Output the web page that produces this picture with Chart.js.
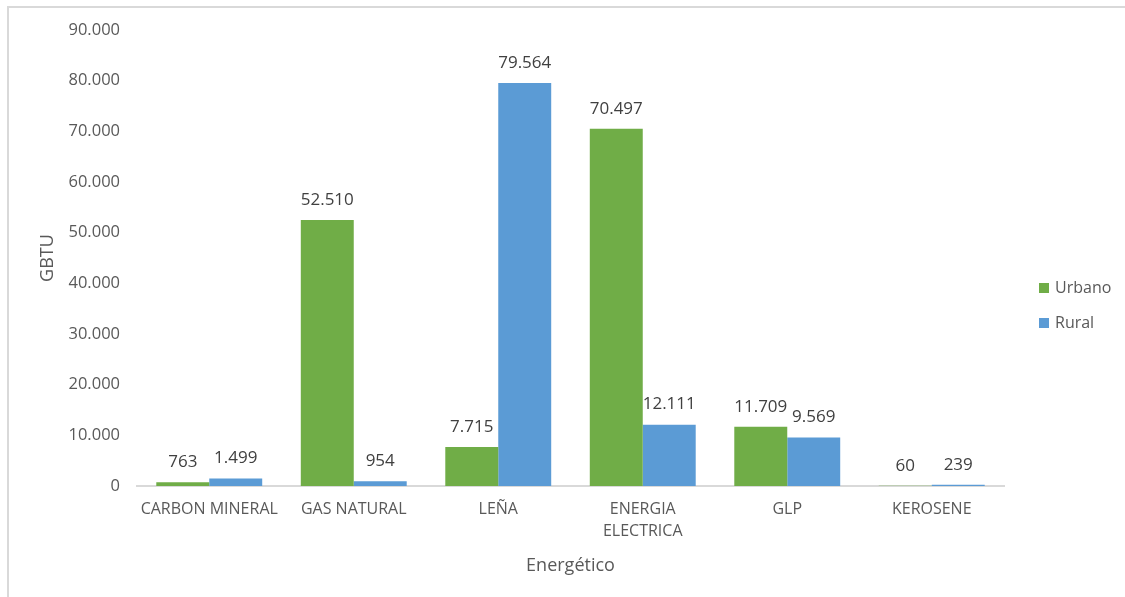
<!DOCTYPE html>
<html>
<head>
<meta charset="utf-8">
<script src="https://cdn.jsdelivr.net/npm/chart.js@4.4.1/dist/chart.umd.min.js"></script>
<style>
  html, body { margin: 0; padding: 0; background: #fff; }
  #wrap { width: 1125px; height: 597px; }
</style>
</head>
<body>
<div id="wrap"><canvas id="energia"></canvas></div>
<script>
// Consumo por energético, urbano vs rural (GBTU)
const categorias = ["CARBON MINERAL", "GAS NATURAL", "LEÑA", ["ENERGIA", "ELECTRICA"], "GLP", "KEROSENE"];
const urbano = [763, 52510, 7715, 70497, 11709, 60];
const rural = [1499, 954, 79564, 12111, 9569, 239];
const yTicks = [0, 10000, 20000, 30000, 40000, 50000, 60000, 70000, 80000, 90000];

const VERDE = "#70AD47";
const AZUL = "#5B9BD5";
const FUENTE = "'Open Sans', sans-serif";

// formato con punto de miles: 52510 -> 52.510
function miles(v) {
  return String(Math.round(v)).replace(/\B(?=(\d{3})+(?!\d))/g, ".");
}

// fondo y marco gris
const marco = {
  id: "marco",
  beforeDraw(chart) {
    const ctx = chart.ctx;
    ctx.save();
    ctx.fillStyle = "#fff";
    ctx.fillRect(0, 0, chart.width, chart.height);
    ctx.strokeStyle = "#d9d9d9";
    ctx.lineWidth = 2;
    ctx.beginPath();
    ctx.moveTo(8, chart.height);
    ctx.lineTo(8, 7);
    ctx.lineTo(chart.width, 7);
    ctx.stroke();
    ctx.restore();
  }
};

// etiquetas de valor sobre cada barra
const etiquetas = {
  id: "etiquetas",
  afterDatasetsDraw(chart) {
    const ctx = chart.ctx;
    ctx.save();
    ctx.font = "17px " + FUENTE;
    ctx.fillStyle = "#404040";
    ctx.textAlign = "center";
    ctx.textBaseline = "middle";
    chart.data.datasets.forEach((ds, i) => {
      chart.getDatasetMeta(i).data.forEach((bar, j) => {
        ctx.fillText(miles(ds.data[j]), bar.x, bar.y - 20);
      });
    });
    ctx.restore();
  }
};

// leyenda a la derecha
const leyenda = {
  id: "leyenda",
  afterDraw(chart) {
    const ctx = chart.ctx;
    ctx.save();
    ctx.font = "16px " + FUENTE;
    ctx.textBaseline = "middle";
    chart.data.datasets.forEach((ds, i) => {
      const y = 288 + i * 35;
      ctx.fillStyle = ds.backgroundColor;
      ctx.fillRect(1039, y - 5, 10, 10);
      ctx.fillStyle = "#595959";
      ctx.fillText(ds.label, 1055, y);
    });
    ctx.restore();
  }
};

new Chart(document.getElementById("energia"), {
  type: "bar",
  data: {
    labels: categorias,
    datasets: [
      { label: "Urbano", backgroundColor: VERDE, data: urbano },
      { label: "Rural", backgroundColor: AZUL, data: rural }
    ]
  },
  options: {
    responsive: true,
    maintainAspectRatio: false,
    animation: false,
    devicePixelRatio: 1,
    layout: { padding: { top: 30, right: 121, bottom: 0, left: 0 } },
    datasets: {
      bar: { categoryPercentage: 0.733, barPercentage: 1.0 }
    },
    plugins: {
      legend: { display: false },
      tooltip: { enabled: false }
    },
    scales: {
      x: {
        grid: { display: false, drawTicks: false },
        border: { display: true, color: "#d9d9d9", width: 2 },
        ticks: { color: "#595959", font: { family: FUENTE, size: 16, lineHeight: 1.35 }, padding: 13, maxRotation: 0, autoSkip: false },
        title: { display: true, text: "Energético", color: "#595959", font: { family: FUENTE, size: 18 }, padding: { top: 0, bottom: 20 } },
        afterFit(scale) { scale.height = 111; }
      },
      y: {
        min: 0,
        max: 90000,
        afterBuildTicks(scale) { scale.ticks = yTicks.map(v => ({ value: v })); },
        grid: { display: false, drawTicks: false },
        border: { display: false },
        ticks: { color: "#595959", font: { family: FUENTE, size: 16.5 }, padding: 17, callback: v => miles(v) },
        title: { display: true, text: "GBTU", color: "#595959", font: { family: FUENTE, size: 18 }, padding: { top: 37, bottom: 0 } },
        afterFit(scale) { scale.width = 137; }
      }
    }
  },
  plugins: [marco, etiquetas, leyenda]
});
</script>
</body>
</html>
